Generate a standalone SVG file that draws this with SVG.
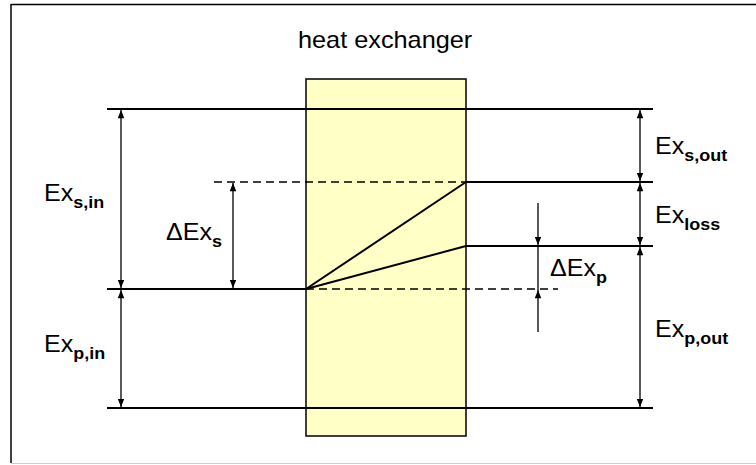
<svg xmlns="http://www.w3.org/2000/svg" width="756" height="465" viewBox="0 0 756 465">
<style>
  .lvl{stroke:#000;stroke-width:2;fill:none}
  .dash{stroke:#000;stroke-width:1.5;stroke-dasharray:8 5;fill:none}
  .dim{stroke:#000;stroke-width:1.3;fill:none}
  .dbl{marker-start:url(#ah);marker-end:url(#ah)}
  .one{marker-end:url(#ah)}
  .lab{font-family:"Liberation Sans",Arial,sans-serif;font-size:23px;fill:#000}
  .sub{font-weight:bold;font-size:16.5px}
</style>
<defs>
  <marker id="ah" viewBox="0 0 10 8" refX="10" refY="4" markerUnits="userSpaceOnUse" markerWidth="9" markerHeight="6.5" orient="auto-start-reverse">
    <path d="M0,0 L10,4 L0,8 z" fill="#000"/>
  </marker>
</defs>
<rect width="756" height="465" fill="#fff"/>
<g id="frame">
  <line x1="11" y1="4.5" x2="756" y2="4.5" stroke="#000" stroke-width="1.5"/>
  <line x1="11" y1="4" x2="11" y2="463" stroke="#000" stroke-width="1.5"/>
  <line x1="11" y1="463.5" x2="756" y2="463.5" stroke="#ccc" stroke-width="1.2"/>
</g>
<g id="heat-exchanger">
  <rect x="306" y="79" width="160" height="357" fill="#FFFFC6" stroke="#000" stroke-width="1.5"/>
  <text class="lab" transform="translate(298,48) scale(1.1,1)">heat exchanger</text>
</g>
<g id="connectors">
  <line class="lvl" x1="107" y1="109" x2="653" y2="109"/>
  <line class="dash" x1="214" y1="182" x2="466" y2="182"/>
  <line class="lvl" x1="466" y1="182" x2="653" y2="182"/>
  <line class="lvl" x1="466" y1="246" x2="653" y2="246"/>
  <line class="lvl" x1="107" y1="289" x2="306" y2="289"/>
  <line class="dash" x1="306" y1="289" x2="558" y2="289"/>
  <line class="lvl" x1="107" y1="408" x2="653" y2="408"/>
  <line class="lvl" x1="306" y1="289" x2="466" y2="182"/>
  <line class="lvl" x1="306" y1="289" x2="466" y2="246"/>
  <line class="dim dbl" x1="121" y1="110" x2="121" y2="288"/>
  <line class="dim dbl" x1="121" y1="290" x2="121" y2="407"/>
  <line class="dim dbl" x1="233" y1="183" x2="233" y2="288"/>
  <line class="dim dbl" x1="640" y1="110" x2="640" y2="181"/>
  <line class="dim dbl" x1="640" y1="183" x2="640" y2="245"/>
  <line class="dim dbl" x1="640" y1="247" x2="640" y2="407"/>
  <line class="dim one" x1="538" y1="203" x2="538" y2="245"/>
  <line class="dim" x1="538" y1="245" x2="538" y2="290"/>
  <line class="dim one" x1="538" y1="332" x2="538" y2="290"/>
</g>
<g id="label-ex-s-in"><text class="lab" transform="translate(44,200.5) scale(1.09,1)">Ex<tspan class="sub" dy="7">s,in</tspan></text></g>
<g id="label-dex-s"><text class="lab" transform="translate(166,240) scale(1.09,1)">ΔEx<tspan class="sub" dy="7">s</tspan></text></g>
<g id="label-ex-p-in"><text class="lab" transform="translate(44,352) scale(1.09,1)">Ex<tspan class="sub" dy="7">p,in</tspan></text></g>
<g id="label-dex-p"><text class="lab" transform="translate(550,276) scale(1.09,1)">ΔEx<tspan class="sub" dy="7">p</tspan></text></g>
<g id="label-ex-s-out"><text class="lab" transform="translate(655,154) scale(1.09,1)">Ex<tspan class="sub" dy="7">s,out</tspan></text></g>
<g id="label-ex-loss"><text class="lab" transform="translate(655,222.5) scale(1.09,1)">Ex<tspan class="sub" dy="7">loss</tspan></text></g>
<g id="label-ex-p-out"><text class="lab" transform="translate(655,336.5) scale(1.09,1)">Ex<tspan class="sub" dy="7">p,out</tspan></text></g>
</svg>
